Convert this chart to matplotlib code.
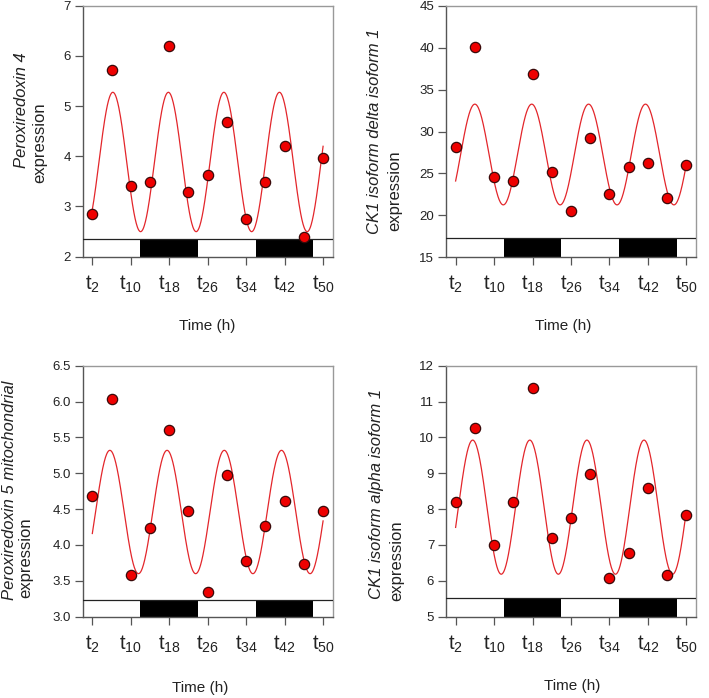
import numpy as np
import matplotlib
matplotlib.use("Agg")
import matplotlib.pyplot as plt
from matplotlib.patches import Rectangle

plt.rcParams['font.family'] = ['Liberation Sans', 'DejaVu Sans']
plt.rcParams['mathtext.fontset'] = 'custom'
plt.rcParams['mathtext.rm'] = 'Liberation Sans'

# sampling times (h)
times = [2, 6, 10, 14, 18, 22, 26, 30, 34, 38, 42, 46, 50]
tick_times = [2, 10, 18, 26, 34, 42, 50]
tick_labels = [r'$\mathregular{t_{%d}}$' % t for t in tick_times]

# measured expression
prx4 = [2.86, 5.71, 3.41, 3.49, 6.20, 3.28, 3.63, 4.69, 2.75, 3.49, 4.21, 2.39, 3.97]
ck1d = [28.16, 40.09, 24.61, 24.13, 36.90, 25.21, 20.50, 29.24, 22.54, 25.81, 26.25, 22.06, 25.97]
prx5 = [4.69, 6.03, 3.58, 4.24, 5.60, 4.48, 3.34, 4.97, 3.78, 4.26, 4.62, 3.73, 4.48]
ck1a = [8.21, 10.26, 7.00, 8.21, 11.39, 7.19, 7.76, 8.97, 6.07, 6.78, 8.60, 6.16, 7.84]

# fitted cosinor: mesor, amplitude, period (h), peak time (h)
fit_prx4 = (3.887, 1.388, 11.55, 6.27)
fit_ck1d = (27.25, 6.02, 11.83, 6.00)
fit_prx5 = (4.46, 0.86, 11.90, 5.65)
fit_ck1a = (8.055, 1.87, 11.88, 5.55)

# dark phases (h)
dark = [(12, 24), (36, 48)]

W, H = 709, 698
fig = plt.figure(figsize=(W / 100, H / 100), dpi=100)

panels = [
    # data, fit, ylim, yticks, strip top, fmt, axes px (x0, y0), gene, label pos, expr pos, time pos
    (prx4, fit_prx4, (2, 7), np.arange(2, 8, 1), 2.35, '%d', (82.7, 5.7),
     'Peroxiredoxin 4', (21.7, 110), (40, 143), (207, 326)),
    (ck1d, fit_ck1d, (15, 45), np.arange(15, 46, 5), 17.24, '%d', (446, 6.0),
     'CK1 isoform delta isoform 1', (375, 131), (395, 191), (563, 326)),
    (prx5, fit_prx5, (3.0, 6.5), np.arange(3.0, 6.6, 0.5), 3.23, '%.1f', (82.7, 365.7),
     'Peroxiredoxin 5 mitochondrial', (9.5, 490), (25.5, 557.5), (200, 688)),
    (ck1a, fit_ck1a, (5, 12), np.arange(5, 13, 1), 5.52, '%d', (446, 365.7),
     'CK1 isoform alpha isoform 1', (376.7, 494), (396.7, 561), (572, 686)),
]

aw, ah = 250, 251
for vals, fit, ylim, yticks, strip, fmt, (x0, y0), gene, lpos, epos, tpos in panels:
    ax = fig.add_axes([x0 / W, 1 - (y0 + ah) / H, aw / W, ah / H])
    ax.set_xlim(0, 52)
    ax.set_ylim(*ylim)

    # light/dark bar
    ax.add_patch(Rectangle((0, ylim[0]), 52, strip - ylim[0], facecolor='white',
                           edgecolor='none', zorder=1))
    for a, b in dark:
        ax.add_patch(Rectangle((a, ylim[0]), b - a, strip - ylim[0], facecolor='black',
                               edgecolor='none', zorder=2))
    ax.axhline(strip, color='#222222', lw=0.9, zorder=3)

    mesor, amp, period, peak = fit
    tt = np.linspace(2, 50, 600)
    ax.plot(tt, mesor + amp * np.cos(2 * np.pi * (tt - peak) / period),
            color='#e3262b', lw=0.9, zorder=4)
    ax.plot(times, vals, 'o', ms=7.4, mfc='#ee0000', mec='#3a0a0a', mew=0.9,
            zorder=5, clip_on=False)

    ax.set_xticks(tick_times)
    ax.set_xticklabels(tick_labels, fontsize=14.5, color='#222222')
    ax.set_yticks(yticks)
    ax.set_yticklabels([fmt % v for v in yticks], fontsize=9.5, color='#222222')
    ax.tick_params(axis='both', direction='out', length=5.5, width=0.9, color='#555555')
    ax.tick_params(axis='x', pad=6.5)
    ax.tick_params(axis='y', pad=3)
    for s in ['left', 'bottom']:
        ax.spines[s].set_color('#555555')
        ax.spines[s].set_linewidth(1.0)
    for s in ['top', 'right']:
        ax.spines[s].set_color('#999999')
        ax.spines[s].set_linewidth(1.0)

    fig.text(lpos[0] / W, 1 - lpos[1] / H, gene, rotation=90, style='italic',
             fontsize=12, ha='center', va='center', color='#222222')
    fig.text(epos[0] / W, 1 - epos[1] / H, 'expression', rotation=90,
             fontsize=12, ha='center', va='center', color='#222222')
    fig.text(tpos[0] / W, 1 - tpos[1] / H, 'Time (h)', fontsize=11,
             ha='center', va='center', color='#222222')

fig.savefig('out.png', dpi=100)
